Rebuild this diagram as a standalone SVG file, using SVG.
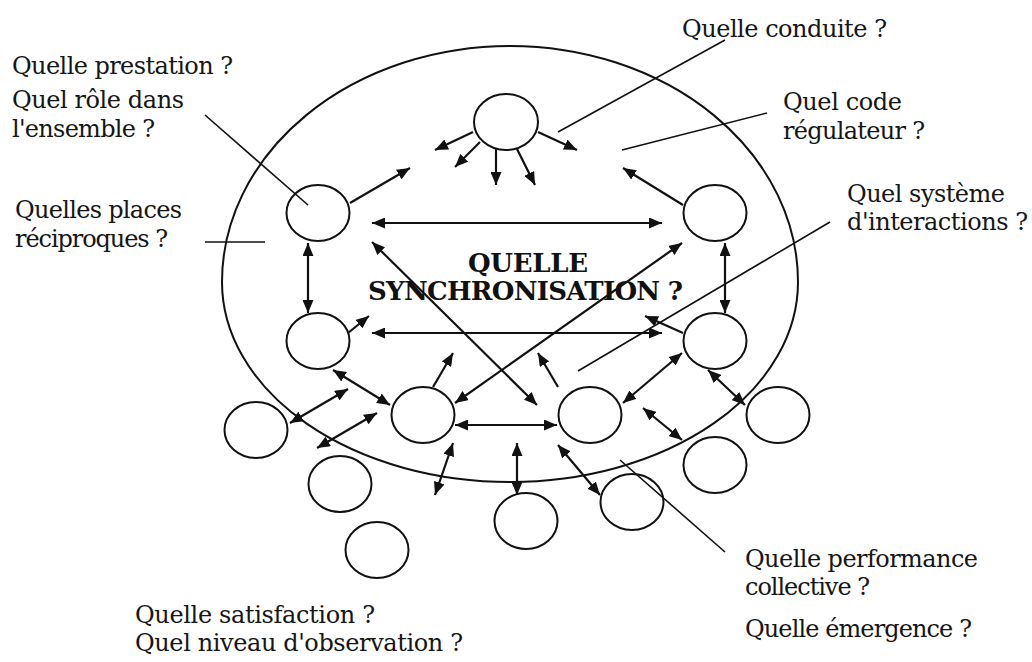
<svg xmlns="http://www.w3.org/2000/svg" width="1032" height="662" viewBox="0 0 1032 662">
<defs>
<style>
.node{fill:#fff;stroke:#111;stroke-width:2}
.boundary{fill:none;stroke:#111;stroke-width:2}
.arr{stroke:#111;stroke-width:2.2;fill:none;marker-end:url(#ah)}
.dbl{stroke:#111;stroke-width:2.2;fill:none;marker-start:url(#ah);marker-end:url(#ah)}
.lead{stroke:#111;stroke-width:1.6;fill:none}
.lbl{font-family:"DejaVu Serif","Liberation Serif",serif;font-size:24px;fill:#161616}
.title{font-family:"DejaVu Serif","Liberation Serif",serif;font-size:26px;font-weight:bold;fill:#111}
</style>
<marker id="ah" viewBox="0 0 13 11" refX="13" refY="5.5" markerWidth="13" markerHeight="11" markerUnits="userSpaceOnUse" orient="auto-start-reverse">
<path d="M0,0 L13,5.5 L0,11 z" fill="#111"/>
</marker>
</defs>
<rect width="1032" height="662" fill="#fff"/>

<g id="group-boundary">
<path class="boundary" d="M 222,282 A 288,236 0 0 1 798,282 A 288,200 0 0 1 222,282 Z"/>
</g>

<g id="node-top"><ellipse class="node" cx="506" cy="122" rx="32" ry="28"/></g>
<g id="node-upper-left"><ellipse class="node" cx="318" cy="213" rx="31.5" ry="28"/></g>
<g id="node-upper-right"><ellipse class="node" cx="715" cy="213" rx="31.5" ry="28"/></g>
<g id="node-mid-left"><ellipse class="node" cx="318" cy="341" rx="31.5" ry="28"/></g>
<g id="node-mid-right"><ellipse class="node" cx="715" cy="341" rx="31.5" ry="28"/></g>
<g id="node-inner-bottom-left"><ellipse class="node" cx="423" cy="415" rx="31.5" ry="28"/></g>
<g id="node-inner-bottom-right"><ellipse class="node" cx="590" cy="415" rx="31.5" ry="28"/></g>
<g id="node-outer-1"><ellipse class="node" cx="256" cy="430" rx="31.5" ry="28"/></g>
<g id="node-outer-2"><ellipse class="node" cx="340" cy="484" rx="31.5" ry="28"/></g>
<g id="node-outer-3"><ellipse class="node" cx="377" cy="550" rx="31.5" ry="28"/></g>
<g id="node-outer-4"><ellipse class="node" cx="526" cy="521" rx="31.5" ry="28"/></g>
<g id="node-outer-5"><ellipse class="node" cx="632" cy="502" rx="31.5" ry="28"/></g>
<g id="node-outer-6"><ellipse class="node" cx="715" cy="465" rx="31.5" ry="28"/></g>
<g id="node-outer-7"><ellipse class="node" cx="778" cy="415" rx="31.5" ry="28"/></g>

<g id="connectors">
<line class="arr" x1="473" y1="132" x2="435" y2="150"/>
<line class="arr" x1="480" y1="142" x2="455" y2="167"/>
<line class="arr" x1="496" y1="149" x2="496" y2="185"/>
<line class="arr" x1="517" y1="149" x2="535" y2="185"/>
<line class="arr" x1="538" y1="132" x2="577" y2="150"/>
<line class="arr" x1="350" y1="203" x2="410" y2="168"/>
<line class="arr" x1="683" y1="205" x2="623" y2="168"/>
<line class="arr" x1="348" y1="333" x2="369" y2="316"/>
<line class="arr" x1="683" y1="333" x2="645" y2="316"/>
<line class="arr" x1="433" y1="387" x2="453" y2="353"/>
<line class="arr" x1="558" y1="387" x2="538" y2="353"/>

<line class="dbl" x1="372" y1="223" x2="662" y2="223"/>
<line class="dbl" x1="372" y1="242" x2="537" y2="405"/>
<line class="dbl" x1="682" y1="243" x2="455" y2="403"/>
<line class="dbl" x1="308" y1="243" x2="308" y2="313"/>
<line class="dbl" x1="725" y1="243" x2="725" y2="313"/>
<line class="dbl" x1="372" y1="333" x2="662" y2="333"/>
<line class="dbl" x1="623" y1="403" x2="682" y2="353"/>
<line class="dbl" x1="333" y1="370" x2="390" y2="405"/>
<line class="dbl" x1="290" y1="423" x2="348" y2="389"/>
<line class="dbl" x1="317" y1="448" x2="377" y2="413"/>
<line class="dbl" x1="453" y1="443" x2="435" y2="495"/>
<line class="dbl" x1="455" y1="425" x2="557" y2="425"/>
<line class="dbl" x1="517" y1="443" x2="517" y2="495"/>
<line class="dbl" x1="558" y1="445" x2="600" y2="495"/>
<line class="dbl" x1="643" y1="408" x2="682" y2="440"/>
<line class="dbl" x1="708" y1="370" x2="745" y2="405"/>

<line class="lead" x1="558" y1="132" x2="725" y2="40"/>
<line class="lead" x1="622" y1="150" x2="767" y2="113"/>
<line class="lead" x1="578" y1="371" x2="830" y2="222"/>
<line class="lead" x1="205" y1="115" x2="308" y2="205"/>
<line class="lead" x1="205" y1="242" x2="265" y2="242"/>
<line class="lead" x1="620" y1="460" x2="725" y2="552"/>
</g>

<g id="labels">
<text class="lbl" x="682" y="37" textLength="205">Quelle conduite ?</text>
<text class="lbl" x="783" y="110" textLength="119">Quel code</text>
<text class="lbl" x="783" y="139" textLength="142">régulateur ?</text>
<text class="lbl" x="847" y="202" textLength="158">Quel système</text>
<text class="lbl" x="847" y="230" textLength="181">d'interactions ?</text>
<text class="lbl" x="12" y="74" textLength="221">Quelle prestation ?</text>
<text class="lbl" x="12" y="108" textLength="172">Quel rôle dans</text>
<text class="lbl" x="12" y="137" textLength="143">l'ensemble ?</text>
<text class="lbl" x="15" y="218" textLength="167">Quelles places</text>
<text class="lbl" x="15" y="247" textLength="153">réciproques ?</text>
<text class="lbl" x="135" y="623" textLength="240">Quelle satisfaction ?</text>
<text class="lbl" x="135" y="651" textLength="328">Quel niveau d'observation ?</text>
<text class="lbl" x="745" y="567" textLength="233">Quelle performance</text>
<text class="lbl" x="745" y="595" textLength="125">collective ?</text>
<text class="lbl" x="745" y="637" textLength="227">Quelle émergence ?</text>
<text class="title" x="468" y="272" textLength="120">QUELLE</text>
<text class="title" x="368" y="300" textLength="315">SYNCHRONISATION ?</text>
</g>
</svg>
